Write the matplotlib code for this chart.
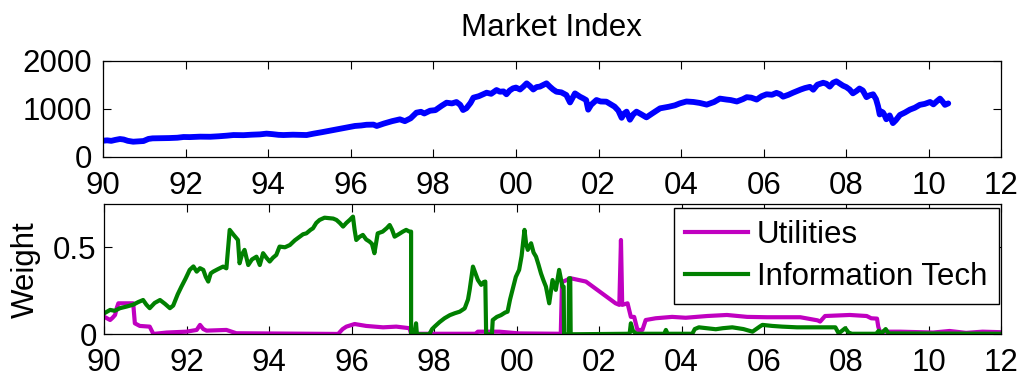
import matplotlib
matplotlib.use("Agg")
import matplotlib.pyplot as plt
import numpy as np

plt.rcParams['font.family'] = ['Liberation Sans', 'DejaVu Sans']

# market index (year, level)
idx_year = [1990.00, 1990.10, 1990.20, 1990.30, 1990.41, 1990.50, 1990.60, 1990.73, 1990.85, 1990.98,
            1991.10, 1991.20, 1991.40, 1991.60, 1991.80, 1991.95, 1992.10, 1992.35, 1992.60, 1992.80,
            1993.00, 1993.16, 1993.40, 1993.60, 1993.80, 1993.96, 1994.10, 1994.25, 1994.37, 1994.60,
            1994.80, 1994.93, 1995.10, 1995.30, 1995.58, 1995.80, 1995.98, 1996.10, 1996.25, 1996.38,
            1996.55, 1996.63, 1996.80, 1997.00, 1997.19, 1997.31, 1997.45, 1997.59, 1997.70, 1997.78,
            1997.92, 1998.05, 1998.20, 1998.32, 1998.45, 1998.56, 1998.65, 1998.72, 1998.80, 1998.90,
            1998.97, 1999.10, 1999.29, 1999.40, 1999.53, 1999.61, 1999.70, 1999.77, 1999.85, 1999.93,
            2000.00, 2000.10, 2000.18, 2000.26, 2000.34, 2000.42, 2000.50, 2000.58, 2000.66, 2000.74,
            2000.82, 2000.90, 2000.98, 2001.10, 2001.22, 2001.31, 2001.43, 2001.55, 2001.63, 2001.70,
            2001.75, 2001.82, 2001.95, 2002.05, 2002.19, 2002.28, 2002.39, 2002.48, 2002.56, 2002.62,
            2002.68, 2002.76, 2002.84, 2002.92, 2003.04, 2003.16, 2003.30, 2003.49, 2003.70, 2003.85,
            2003.97, 2004.13, 2004.30, 2004.45, 2004.62, 2004.80, 2004.94, 2005.10, 2005.20, 2005.35,
            2005.50, 2005.59, 2005.70, 2005.83, 2005.95, 2006.07, 2006.20, 2006.31, 2006.40, 2006.47,
            2006.60, 2006.71, 2006.90, 2007.00, 2007.12, 2007.20, 2007.30, 2007.44, 2007.52, 2007.60,
            2007.68, 2007.76, 2007.85, 2007.92, 2008.00, 2008.08, 2008.16, 2008.25, 2008.32, 2008.40,
            2008.49, 2008.57, 2008.65, 2008.72, 2008.77, 2008.81, 2008.85, 2008.89, 2008.93, 2008.97,
            2009.05, 2009.13, 2009.20, 2009.30, 2009.42, 2009.54, 2009.66, 2009.78, 2009.90, 2010.03,
            2010.11, 2010.20, 2010.27, 2010.33, 2010.39, 2010.47]
idx_value = [333, 340, 330, 350, 368, 358, 330, 312, 318, 326,
             370, 382, 385, 388, 395, 410, 408, 417, 415, 425,
             438, 451, 448, 458, 465, 480, 470, 455, 451, 458,
             455, 451, 480, 510, 556, 590, 620, 640, 650, 665,
             668, 640, 690, 740, 778, 740, 800, 917, 935, 900,
             958, 970, 1060, 1125, 1110, 1139, 1080, 972, 1010, 1120,
             1230, 1260, 1333, 1310, 1389, 1354, 1360, 1300, 1380, 1424,
             1440, 1400, 1460, 1528, 1470, 1400, 1450, 1460, 1493, 1528,
             1460, 1400, 1354, 1340, 1285, 1130, 1319, 1250, 1215, 1180,
             980, 1080, 1181, 1150, 1146, 1100, 1042, 960, 810, 900,
             938, 770, 880, 938, 880, 819, 900, 1007, 1040, 1070,
             1111, 1150, 1140, 1120, 1085, 1140, 1210, 1190, 1180, 1150,
             1200, 1240, 1230, 1190, 1260, 1300, 1290, 1330, 1300, 1250,
             1290, 1333, 1400, 1430, 1455, 1395, 1500, 1540, 1520, 1460,
             1540, 1570, 1520, 1480, 1450, 1400, 1320, 1370, 1420, 1380,
             1240, 1280, 1300, 1200, 1050, 880, 940, 920, 860, 780,
             860, 700, 760, 870, 920, 980, 1020, 1080, 1100, 1140,
             1090, 1160, 1210, 1150, 1080, 1110]

# portfolio weights
util_year = [1990.00, 1990.08, 1990.14, 1990.20, 1990.26, 1990.30, 1990.34, 1990.70, 1990.72, 1990.74,
             1990.86, 1991.10, 1991.15, 1991.19, 1991.51, 1991.99, 1992.24, 1992.32, 1992.40, 1992.48,
             1992.96, 1993.20, 1995.67, 1995.78, 1995.87, 1996.07, 1996.35, 1996.76, 1997.08, 1997.40,
             1997.44, 1999.00, 1999.06, 1999.58, 2000.06, 2001.07, 2001.10, 2001.31, 2001.68, 2002.40,
             2002.49, 2002.53, 2002.56, 2002.69, 2002.77, 2002.85, 2002.93, 2003.05, 2003.13, 2003.37,
             2003.77, 2004.10, 2004.62, 2005.10, 2005.59, 2006.07, 2006.88, 2007.30, 2007.36, 2007.48,
             2008.08, 2008.49, 2008.60, 2008.74, 2008.77, 2008.81, 2009.30, 2010.10, 2010.50, 2010.90,
             2011.30, 2011.74]
util_weight = [0.100, 0.090, 0.082, 0.095, 0.111, 0.150, 0.178, 0.178, 0.120, 0.063,
               0.048, 0.044, 0.020, 0.002, 0.010, 0.015, 0.025, 0.054, 0.030, 0.021,
               0.025, 0.006, 0.002, 0.030, 0.044, 0.059, 0.048, 0.040, 0.044, 0.035,
               0.003, 0.003, 0.015, 0.015, 0.005, 0.003, 0.300, 0.322, 0.303, 0.178,
               0.169, 0.542, 0.169, 0.178, 0.100, 0.100, 0.025, 0.025, 0.082, 0.092,
               0.100, 0.095, 0.105, 0.111, 0.100, 0.098, 0.098, 0.080, 0.073, 0.105,
               0.111, 0.105, 0.092, 0.090, 0.044, 0.015, 0.015, 0.010, 0.019, 0.008,
               0.015, 0.012]

tech_year = [1990.00, 1990.14, 1990.25, 1990.38, 1990.55, 1990.70, 1990.82, 1990.94, 1991.02, 1991.10,
             1991.22, 1991.35, 1991.47, 1991.59, 1991.67, 1991.78, 1991.87, 1991.97, 1992.07, 1992.16,
             1992.24, 1992.32, 1992.40, 1992.46, 1992.52, 1992.58, 1992.64, 1992.76, 1992.88, 1992.96,
             1993.04, 1993.14, 1993.24, 1993.28, 1993.34, 1993.40, 1993.49, 1993.58, 1993.69, 1993.77,
             1993.85, 1993.93, 1994.01, 1994.09, 1994.17, 1994.25, 1994.38, 1994.50, 1994.62, 1994.74,
             1994.82, 1994.90, 1995.00, 1995.06, 1995.14, 1995.22, 1995.34, 1995.46, 1995.55, 1995.63,
             1995.71, 1995.79, 1995.87, 1995.95, 1996.03, 1996.07, 1996.11, 1996.19, 1996.27, 1996.35,
             1996.43, 1996.49, 1996.55, 1996.63, 1996.75, 1996.85, 1996.92, 1996.98, 1997.04, 1997.14,
             1997.24, 1997.32, 1997.40, 1997.44, 1997.44, 1997.52, 1997.56, 1997.58, 1997.88, 1997.95,
             1998.01, 1998.13, 1998.25, 1998.38, 1998.50, 1998.62, 1998.74, 1998.82, 1998.86, 1998.94,
             1999.00, 1999.06, 1999.14, 1999.20, 1999.24, 1999.26, 1999.40, 1999.42, 1999.52, 1999.62,
             1999.72, 1999.78, 1999.84, 1999.90, 1999.98, 2000.06, 2000.12, 2000.19, 2000.23, 2000.27,
             2000.35, 2000.41, 2000.47, 2000.53, 2000.59, 2000.65, 2000.71, 2000.79, 2000.87, 2000.95,
             2001.03, 2001.11, 2001.14, 2001.15, 2001.26, 2001.27, 2001.30, 2001.31, 2002.74, 2002.77,
             2002.82, 2002.90, 2003.58, 2003.62, 2003.66, 2004.26, 2004.32, 2004.42, 2004.83, 2005.00,
             2005.23, 2005.50, 2005.72, 2005.90, 2005.96, 2006.20, 2006.44, 2006.80, 2007.25, 2007.73,
             2007.81, 2007.97, 2008.05, 2008.13, 2008.72, 2008.78, 2008.85, 2008.95, 2009.02, 2011.74]
tech_weight = [0.121, 0.140, 0.135, 0.150, 0.160, 0.170, 0.185, 0.197, 0.170, 0.150,
               0.180, 0.197, 0.175, 0.150, 0.165, 0.230, 0.274, 0.320, 0.370, 0.390,
               0.360, 0.380, 0.370, 0.330, 0.303, 0.350, 0.360, 0.375, 0.389, 0.379,
               0.600, 0.570, 0.542, 0.408, 0.460, 0.485, 0.398, 0.430, 0.446, 0.398,
               0.466, 0.440, 0.418, 0.440, 0.456, 0.504, 0.500, 0.513, 0.540, 0.561,
               0.575, 0.580, 0.600, 0.609, 0.640, 0.657, 0.670, 0.667, 0.665, 0.657,
               0.640, 0.619, 0.640, 0.657, 0.676, 0.600, 0.542, 0.560, 0.571, 0.545,
               0.533, 0.520, 0.466, 0.580, 0.590, 0.610, 0.628, 0.600, 0.561, 0.575,
               0.590, 0.600, 0.590, 0.590, 0.000, 0.000, 0.063, 0.000, 0.000, 0.030,
               0.044, 0.070, 0.092, 0.110, 0.121, 0.130, 0.149, 0.200, 0.255, 0.389,
               0.350, 0.312, 0.284, 0.300, 0.303, 0.000, 0.000, 0.082, 0.100, 0.110,
               0.125, 0.130, 0.200, 0.255, 0.330, 0.370, 0.450, 0.600, 0.520, 0.485,
               0.523, 0.470, 0.446, 0.400, 0.350, 0.310, 0.274, 0.178, 0.312, 0.255,
               0.370, 0.274, 0.274, 0.000, 0.000, 0.322, 0.322, 0.000, 0.003, 0.063,
               0.020, 0.003, 0.003, 0.025, 0.003, 0.003, 0.030, 0.040, 0.029, 0.035,
               0.040, 0.030, 0.015, 0.045, 0.054, 0.048, 0.044, 0.040, 0.040, 0.040,
               0.005, 0.035, 0.010, 0.003, 0.003, 0.020, 0.005, 0.030, 0.005, 0.003]

x_end = 2011.74
tick_pos = [1990, 1992, 1994, 1996, 1998, 2000, 2002, 2004, 2006, 2008, 2010, x_end]
tick_lab = ['90', '92', '94', '96', '98', '00', '02', '04', '06', '08', '10', '12']

fs = 22.5
fig = plt.figure(figsize=(10.23, 3.77), dpi=100)
ax1 = fig.add_axes([0.1007, 0.5844, 0.8775, 0.2546])
ax2 = fig.add_axes([0.1020, 0.1133, 0.8762, 0.3448])

ax1.plot(idx_year, idx_value, color='#0000ff', lw=4.2, solid_capstyle='round', solid_joinstyle='round')
ax1.set_ylim(0, 2000)
ax1.set_yticks([0, 1000, 2000])
ax1.set_title('Market Index', fontsize=fs, pad=18)

ax2.plot(util_year, util_weight, color='#c000c0', lw=3, label='Utilities')
ax2.plot(tech_year, tech_weight, color='#008000', lw=3, label='Information Tech')
ax2.set_ylim(0, 0.747)
ax2.set_yticks([0, 0.5])
ax2.set_yticklabels(['0', '0.5'])
ax2.set_ylabel('Weight', fontsize=fs)
ax2.yaxis.set_label_coords(-0.071, 0.5)

leg = ax2.legend(loc='upper right', bbox_to_anchor=(0.998, 0.969), borderaxespad=0,
                 fontsize=fs, frameon=True, fancybox=False, framealpha=1,
                 edgecolor='black', handlelength=2.0, handletextpad=0.28,
                 labelspacing=0.38, borderpad=0.38)
leg.get_frame().set_linewidth(1.0)

for ax in (ax1, ax2):
    ax.set_xlim(1990, x_end)
    ax.set_xticks(tick_pos)
    ax.set_xticklabels(tick_lab)
    ax.tick_params(direction='in', length=6, width=0.8, top=True, right=True,
                   labelsize=fs)
    ax.tick_params(axis='x', pad=10)
    for s in ax.spines.values():
        s.set_linewidth(0.9)

ax1.tick_params(axis='y', pad=8)
ax2.tick_params(axis='y', pad=5.5)

fig.savefig('out.png', dpi=100)
